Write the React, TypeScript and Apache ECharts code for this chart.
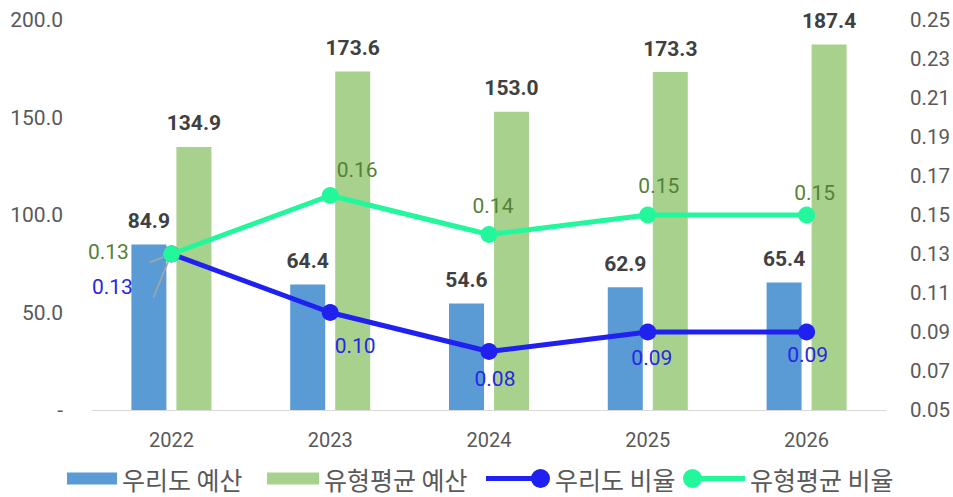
import React, { useEffect, useRef } from "react";
import * as echarts from "echarts";

const years = ["2022", "2023", "2024", "2025", "2026"];
const ourBudget = [84.9, 64.4, 54.6, 62.9, 65.4];
const avgBudget = [134.9, 173.6, 153.0, 173.3, 187.4];
const ourRatio = [0.13, 0.10, 0.08, 0.09, 0.09];
const avgRatio = [0.13, 0.16, 0.14, 0.15, 0.15];

const seriesNames = ["우리도 예산", "유형평균 예산", "우리도 비율", "유형평균 비율"];

// label placement (offsets from each point, in px)
const ourRatioLabelOffsets = [[-59, 33], [25, 33], [6, 27], [4, 26], [1, 23]];
const avgRatioLabelOffsets = [[-63, -2], [27, -26], [4, -29], [11, -29], [8, -22]];

const NUM_FONT = "Roboto";
const KR_FONT = "Noto Sans CJK KR";

const BLUE_BAR = "#5B9BD5";
const GREEN_BAR = "#A9D18E";
const BLUE_LINE = "#2020F0";
const GREEN_LINE = "#22F89B";

const LEGEND_TOP = 466;

export default function App() {
  const ref = useRef<HTMLDivElement>(null);
  useEffect(() => {
    if (!ref.current) return;
    const chart = echarts.init(ref.current, null, { renderer: "svg" });

    const lineData = (vals: number[], offs: number[][]) =>
      vals.map((v, i) => ({
        value: v,
        label: { position: "inside", offset: offs[i] },
        labelLine:
          i === 0
            ? { show: true, lineStyle: { color: "#A6A6A6", width: 1.5 } }
            : { show: false },
      }));

    const barLabel = {
      show: true,
      position: "top",
      distance: 13,
      fontFamily: NUM_FONT,
      fontWeight: "bold",
      fontSize: 21,
      color: "#404040",
      formatter: (p: any) => Number(p.value).toFixed(1),
    };

    const legendText = { fontFamily: KR_FONT, fontSize: 25, color: "#595959" };
    const legendBase = {
      top: LEGEND_TOP,
      padding: 0,
      itemGap: 0,
      textStyle: legendText,
      itemStyle: { borderWidth: 0 },
    };

    chart.setOption({
      animation: false,
      backgroundColor: "#ffffff",
      grid: { left: 92, right: 67, top: 20, bottom: 87 },
      legend: [
        {
          ...legendBase,
          data: [{ name: seriesNames[0], icon: "rect" }],
          left: 67,
          itemWidth: 50,
          itemHeight: 12,
        },
        {
          ...legendBase,
          data: [{ name: seriesNames[1], icon: "rect" }],
          left: 267,
          itemWidth: 52,
          itemHeight: 12,
        },
        {
          ...legendBase,
          data: [
            {
              name: seriesNames[2],
              icon: "path://M0,7 L54,7 L54,12 L0,12 Z M45,9.5 A9.5,9.5 0 1,1 64,9.5 A9.5,9.5 0 1,1 45,9.5 Z",
            },
          ],
          left: 486,
          itemWidth: 64,
          itemHeight: 19,
        },
        {
          ...legendBase,
          data: [
            {
              name: seriesNames[3],
              icon: "path://M9.5,7 L62,7 L62,12 L9.5,12 Z M0,9.5 A9.5,9.5 0 1,1 19,9.5 A9.5,9.5 0 1,1 0,9.5 Z",
            },
          ],
          left: 683,
          itemWidth: 62,
          itemHeight: 19,
        },
      ],
      xAxis: {
        type: "category",
        data: years,
        axisLine: { lineStyle: { color: "#D9D9D9", width: 1 } },
        axisTick: { show: false },
        axisLabel: { fontFamily: NUM_FONT, fontSize: 20, color: "#595959", margin: 20 },
      },
      yAxis: [
        {
          type: "value",
          min: 0,
          max: 200,
          interval: 50,
          splitLine: { show: false },
          axisLine: { show: false },
          axisTick: { show: false },
          axisLabel: {
            fontFamily: NUM_FONT,
            fontSize: 21,
            color: "#595959",
            margin: 29,
            formatter: (v: number) => (v === 0 ? "-" : v.toFixed(1)),
          },
        },
        {
          type: "value",
          min: 0.05,
          max: 0.25,
          interval: 0.02,
          splitLine: { show: false },
          axisLine: { show: false },
          axisTick: { show: false },
          axisLabel: {
            fontFamily: NUM_FONT,
            fontSize: 20.5,
            color: "#595959",
            margin: 24,
            formatter: (v: number) => v.toFixed(2),
          },
        },
      ],
      series: [
        {
          name: seriesNames[0],
          type: "bar",
          data: ourBudget,
          barWidth: 35,
          barGap: "28.6%",
          itemStyle: { color: BLUE_BAR },
          label: barLabel,
        },
        {
          name: seriesNames[1],
          type: "bar",
          data: avgBudget,
          barWidth: 35,
          barGap: "28.6%",
          itemStyle: { color: GREEN_BAR },
          label: barLabel,
        },
        {
          name: seriesNames[2],
          type: "line",
          yAxisIndex: 1,
          data: lineData(ourRatio, ourRatioLabelOffsets),
          symbol: "circle",
          symbolSize: 17,
          showSymbol: true,
          lineStyle: { color: BLUE_LINE, width: 5 },
          itemStyle: { color: BLUE_LINE, borderWidth: 0 },
          label: {
            show: true,
            fontFamily: NUM_FONT,
            fontSize: 21,
            color: "#2626E6",
            formatter: (p: any) => Number(p.value).toFixed(2),
          },
          z: 3,
        },
        {
          name: seriesNames[3],
          type: "line",
          yAxisIndex: 1,
          data: lineData(avgRatio, avgRatioLabelOffsets),
          symbol: "circle",
          symbolSize: 17,
          showSymbol: true,
          lineStyle: { color: GREEN_LINE, width: 5 },
          itemStyle: { color: GREEN_LINE, borderWidth: 0 },
          label: {
            show: true,
            fontFamily: NUM_FONT,
            fontSize: 21,
            color: "#548235",
            formatter: (p: any) => Number(p.value).toFixed(2),
          },
          z: 4,
        },
      ],
    });
    return () => chart.dispose();
  }, []);
  return (
    <div
      ref={ref}
      style={{ position: "fixed", left: 0, top: 0, width: 953, height: 497, background: "#fff" }}
    />
  );
}
